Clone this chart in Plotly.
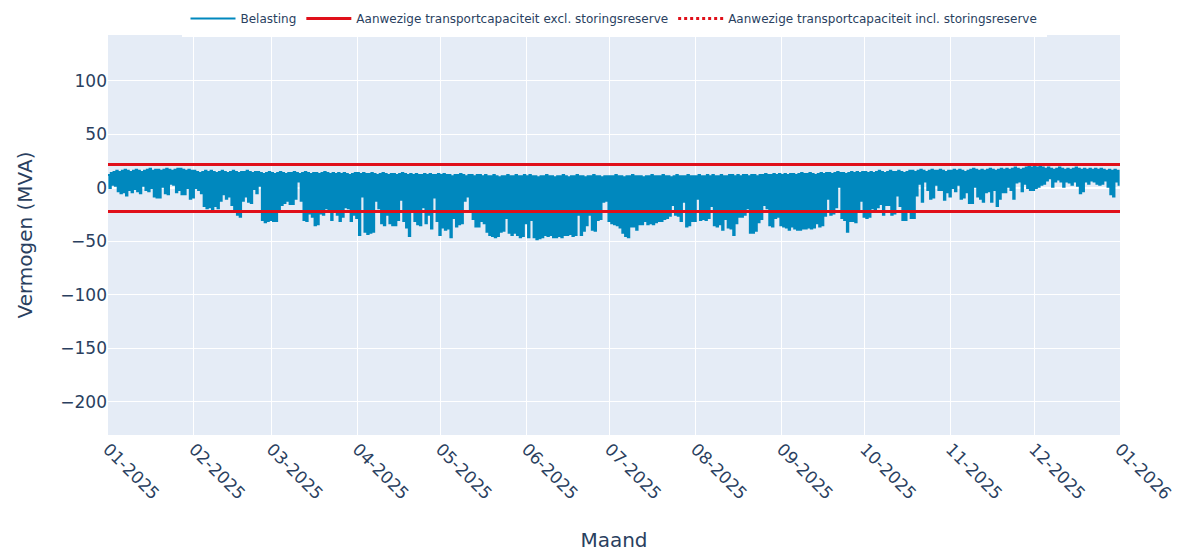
import pandas as pd
import plotly.graph_objects as go

# Daily minimum load (MVA) per month
jan_min = [0,3,2,-3,-5,-4,-7,-2,-4,-1,-3,-5,2,-2,-3,0,-8,-9,-9,1,-5,-6,4,3,-4,-2,-6,-6,0,-10,-9]
feb_min = [0,-2,-5,-17,-19,-18,-20,-17,-19,-12,-6,-10,-8,-16,-20,-25,-27,-12,-8,-13,-14,-1,-5,2,-30,-32,-31,-30]
mar_min = [-31,-31,-20,-16,-14,-12,-15,-15,-10,6,-12,-30,-31,-24,-27,-35,-34,-24,-25,-19,-20,-30,-21,-25,-31,-27,-18,-19,-31,-25,-28]
apr_min = [-44,-8,-41,-43,-42,-41,-12,-19,-33,-35,-25,-33,-35,-35,-30,-11,-31,-37,-45,-21,-31,-34,-35,-18,-33,-25,-38,-9,-31,-44]
may_min = [-37,-39,-38,-46,-28,-36,-34,-33,-12,-8,-20,-29,-36,-36,-31,-33,-41,-44,-45,-46,-45,-41,-40,-28,-42,-44,-42,-44,-46,-45,-33]
jun_min = [-46,-30,-46,-48,-47,-46,-44,-45,-44,-46,-46,-45,-46,-44,-44,-43,-45,-44,-25,-44,-40,-35,-25,-39,-40,-30,-29,-13,-12,-31]
jul_min = [-33,-34,-35,-37,-42,-45,-46,-36,-36,-39,-34,-34,-31,-34,-33,-34,-32,-31,-31,-29,-28,-26,-16,-25,-26,-31,-13,-36,-35,-31,-31]
aug_min = [-10,-30,-29,-30,-28,-17,-35,-36,-34,-39,-29,-37,-38,-44,-33,-27,-27,-25,-19,-42,-42,-40,-32,-29,-16,-19,-35,-36,-28,-27,-35]
sep_min = [-36,-37,-39,-36,-38,-39,-39,-38,-38,-37,-38,-37,-33,-36,-35,-26,-10,-25,-24,-18,1,-28,-30,-41,-31,-31,-32,-20,-12,-27]
oct_min = [-28,-27,-19,-20,-18,-15,-25,-16,-16,-25,-24,-7,-17,-30,-30,-20,-28,-28,-7,4,-13,6,-2,-10,-9,3,-2,-2,-11,-4,-8]
nov_min = [0,-3,3,-10,-9,-4,-14,-14,1,-8,-10,-13,-4,-3,-13,-2,-17,-10,-4,-4,1,-2,-10,5,6,-3,4,0,-2,-2]
dec_min = [0,1,3,4,7,9,1,6,8,6,1,6,5,3,6,2,-5,-3,6,4,7,6,4,3,4,7,1,-6,-8,6,2]

# Daily maximum load (MVA) per month
jan_max = [12,14,15,16,15,16,17,16,15,16,17,16,15,16,17,18,16,17,17,16,17,18,17,16,17,18,18,17,16,17,16]
feb_max = [16,15,14,15,16,15,16,15,14,15,16,15,14,15,16,15,14,15,15,16,15,14,15,15,14,13,14,15]
mar_max = [14,13,14,15,14,13,14,14,15,14,13,14,15,14,13,14,14,13,14,15,14,13,14,13,14,13,14,13,12,13,14]
apr_max = [14,13,14,13,13,14,13,12,13,14,13,12,13,13,12,13,14,13,12,13,12,13,12,12,13,12,13,12,12,13]
may_max = [12,13,12,12,11,12,12,13,12,11,12,12,11,12,12,11,12,11,11,12,11,10,11,11,12,11,11,12,11,11,12]
jun_max = [11,12,11,11,10,11,11,12,11,11,10,11,11,12,11,10,11,11,12,11,11,10,11,11,12,11,11,10,11,11]
jul_max = [11,11,12,11,11,10,11,11,12,11,11,11,10,11,11,12,11,11,11,12,11,11,10,11,12,11,11,11,12,11,11]
aug_max = [11,12,11,11,12,11,12,11,11,12,11,11,12,12,11,12,11,12,12,11,12,12,11,12,12,13,12,12,13,12,13]
sep_max = [12,13,12,13,13,12,13,14,13,13,14,13,12,13,14,13,14,14,13,14,15,14,14,13,14,15,14,15,14,15]
oct_max = [15,14,15,14,15,16,15,14,15,16,15,15,16,15,14,15,16,16,15,16,17,16,15,16,17,16,16,17,16,15,16]
nov_max = [16,17,16,17,16,15,16,17,18,17,16,17,16,17,18,17,16,17,18,17,18,17,18,19,18,17,18,19,20,19]
dec_max = [20,19,20,19,18,19,18,17,18,19,18,17,18,17,18,19,18,17,18,17,18,17,18,17,18,17,16,17,16,17,16]

capacity_excl = 22     # MVA, symmetric
capacity_incl = 22     # MVA, symmetric
period_start = "2025-01-01"
period_end = "2026-01-01"

daily_min = (jan_min + feb_min + mar_min + apr_min + may_min + jun_min +
             jul_min + aug_min + sep_min + oct_min + nov_min + dec_min)
daily_max = (jan_max + feb_max + mar_max + apr_max + may_max + jun_max +
             jul_max + aug_max + sep_max + oct_max + nov_max + dec_max)
days = pd.date_range(period_start, periods=len(daily_min), freq="D")

xs, ys = [], []
for d, lo, hi in zip(days, daily_min, daily_max):
    xs.append(d)
    ys.append(hi)
    xs.append(d + pd.Timedelta(hours=12))
    ys.append(lo)

FONT = "Verdana, DejaVu Sans, sans-serif"
BLUE = "#0088BE"
RED = "#E0101A"

fig = go.Figure()
fig.add_trace(go.Scatter(x=xs, y=ys, mode="lines", name="Belasting",
                         line=dict(color=BLUE, width=2, shape="hv")))
fig.add_trace(go.Scatter(
    x=[period_start, period_end, None, period_start, period_end],
    y=[capacity_excl, capacity_excl, None, -capacity_excl, -capacity_excl],
    mode="lines", name="Aanwezige transportcapaciteit excl. storingsreserve",
    line=dict(color=RED, width=3)))
fig.add_trace(go.Scatter(
    x=[period_start, period_end, None, period_start, period_end],
    y=[capacity_incl, capacity_incl, None, -capacity_incl, -capacity_incl],
    mode="lines", name="Aanwezige transportcapaciteit incl. storingsreserve",
    line=dict(color=RED, width=3, dash="dot")))

fig.update_layout(
    width=1188, height=554,
    template="plotly",
    font=dict(family=FONT, color="#2a3f5f"),
    margin=dict(l=108, r=68, t=35, b=119, autoexpand=False),
    showlegend=True,
    legend=dict(orientation="h", x=0.5, xanchor="center", xref="paper",
                y=1.0, yanchor="top", yref="container",
                itemwidth=45, borderwidth=4, bordercolor="white",
                bgcolor="white", font=dict(size=12, family=FONT)),
    xaxis=dict(range=[period_start, period_end], dtick="M1", tickformat="%m-%Y",
               tickangle=45, tickfont=dict(size=17),
               title=dict(text="Maand", font=dict(size=20), standoff=30)),
    yaxis=dict(range=[-231, 143], tickvals=[-200, -150, -100, -50, 0, 50, 100],
               tickfont=dict(size=17),
               title=dict(text="Vermogen (MVA)", font=dict(size=20), standoff=22)),
)

fig.write_html("out.html", config={"displayModeBar": False},
               post_script="document.body.style.margin='0';document.body.style.overflow='hidden';")
